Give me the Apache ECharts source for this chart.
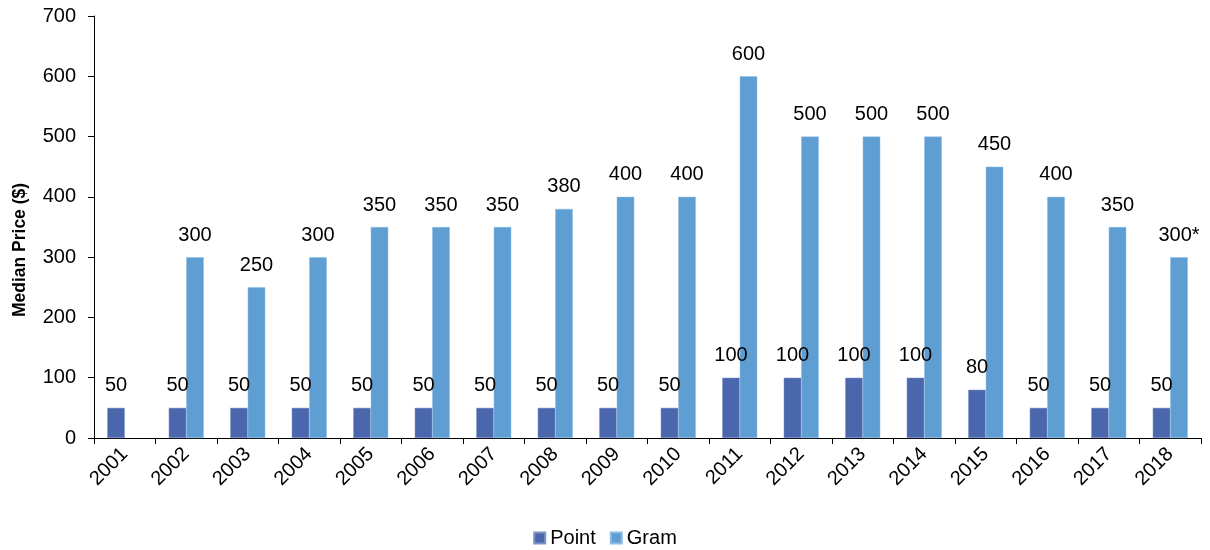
<!doctype html>
<html lang="en">
<head>
    <meta charset="utf-8">
    <title>Median Price</title>
    <script src="https://cdn.jsdelivr.net/npm/echarts@6/dist/echarts.min.js"></script>
    <style>
        html, body { margin: 0; padding: 0; background: #fff; }
        #main { width: 1210px; height: 550px; }
    </style>
</head>
<body>
    <div id="main"></div>
    <script type="text/javascript">
        var years = ['2001', '2002', '2003', '2004', '2005', '2006', '2007', '2008', '2009',
                     '2010', '2011', '2012', '2013', '2014', '2015', '2016', '2017', '2018'];
        var pointPrices = [50, 50, 50, 50, 50, 50, 50, 50, 50, 50, 100, 100, 100, 100, 80, 50, 50, 50];
        var gramPrices = [null, 300, 250, 300, 350, 350, 350, 380, 400, 400, 600, 500, 500, 500, 450, 400, 350, 300];
        // footnote marks on labels (2018 is an estimate)
        var gramNotes = ['', '', '', '', '', '', '', '', '', '', '', '', '', '', '', '', '', '*'];
        var yTicks = [0, 100, 200, 300, 400, 500, 600, 700];

        var font = 'Arial, "Liberation Sans", sans-serif';
        var myChart = echarts.init(document.getElementById('main'));

        var labelStyle = {
            show: true,
            position: 'top',
            distance: 12,
            color: '#000',
            fontSize: 20,
            fontFamily: font
        };

        var option = {
            animation: false,
            grid: { left: 94, right: 9, top: 16, bottom: 112 },
            legend: {
                bottom: -3,
                left: 'center',
                itemWidth: 11,
                itemHeight: 11,
                itemGap: 14,
                icon: 'rect',
                textStyle: { color: '#000', fontSize: 20, fontFamily: font },
                data: ['Point', 'Gram']
            },
            xAxis: {
                type: 'category',
                data: years,
                axisLine: { lineStyle: { color: '#000', width: 1 } },
                axisTick: { show: true, length: 6, lineStyle: { color: '#000' } },
                axisLabel: { rotate: 45, color: '#000', fontSize: 20, fontFamily: font, margin: 13, interval: 0 }
            },
            yAxis: {
                type: 'value',
                min: yTicks[0],
                max: yTicks[yTicks.length - 1],
                interval: 100,
                name: 'Median Price ($)',
                nameLocation: 'middle',
                nameRotate: 90,
                nameGap: 65,
                nameTextStyle: {
                    color: '#000', fontSize: 17.5, fontWeight: 'bold', fontFamily: font,
                    padding: [0, 46, 0, 0]
                },
                axisLine: { show: true, lineStyle: { color: '#000', width: 1 } },
                axisTick: { show: true, length: 6, lineStyle: { color: '#000' } },
                axisLabel: { color: '#000', fontSize: 20, fontFamily: font, margin: 18 },
                splitLine: { show: false }
            },
            series: [{
                name: 'Point',
                type: 'bar',
                data: pointPrices,
                barWidth: 17.5,
                barGap: '0%',
                itemStyle: { color: '#4a66ac', borderColor: '#7f93c8', borderWidth: 0.5 },
                label: labelStyle
            }, {
                name: 'Gram',
                type: 'bar',
                data: gramPrices,
                barWidth: 17.5,
                barGap: '0%',
                itemStyle: { color: '#5f9ed2', borderColor: '#8fbce2', borderWidth: 0.5 },
                label: Object.assign({}, labelStyle, {
                    formatter: function (p) {
                        return p.value + gramNotes[p.dataIndex];
                    }
                })
            }]
        };

        myChart.setOption(option);
    </script>
</body>
</html>
